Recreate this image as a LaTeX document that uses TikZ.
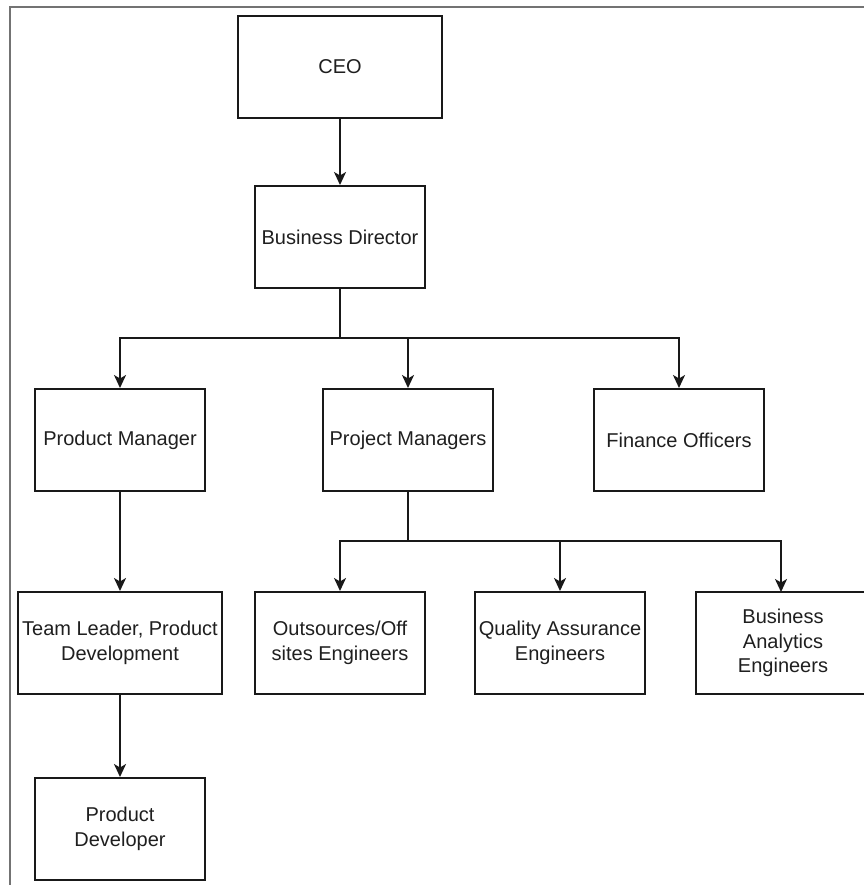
\documentclass[tikz,border=0pt]{standalone}
\usepackage{fontspec}
\setmainfont{Liberation Sans}
\usetikzlibrary{arrows.meta}
\begin{document}
\begin{tikzpicture}[x=1pt,y=-1pt,
  box/.style={draw=black!90, line width=2pt, fill=white, align=center, text=black!88,
    font=\fontsize{20}{24.5}\selectfont, inner sep=0pt, minimum height=102pt, minimum width=170pt},
  wide/.style={minimum width=204pt},
  conn/.style={draw=black!90, line width=2pt},
  arr/.style={conn, -{Stealth[length=13pt,width=12pt,inset=3.5pt]}}
]
\useasboundingbox (0,0) rectangle (863,885);
\draw[draw=black!55, line width=2pt] (10,886) -- (10,7.5) -- (864,7.5);

\node[box, wide] (ceo) at (340,67) {CEO};
\node[box] (bd) at (340,237) {Business Director};
\node[box] (pm) at (120,440) {Product Manager};
\node[box] (pjm) at (408,440) {Project Managers};
\node[box] (fo) at (679,440) {Finance Officers};
\node[box, wide] (tl) at (120,643) {Team Leader, Product\\Development};
\node[box] (pd) at (120,829) {Product\\Developer};
\node[box] (os) at (340,643) {Outsources/Off\\sites Engineers};
\node[box] (qa) at (560,643) {Quality Assurance\\Engineers};
\node[box, minimum width=174pt] (ba) at (783,643) {Business\\Analytics\\Engineers};

\coordinate (j1) at (bd.south |- 0,338);
\coordinate (j2) at (pjm.south |- 0,541);
\coordinate (bat) at (781,592);

\draw[arr] (ceo) -- (bd);
\draw[conn] (bd.south) -- (j1);
\draw[arr] (j1) -| (pm.north);
\draw[arr] (j1) -| (pjm.north);
\draw[arr] (j1) -| (fo.north);
\draw[arr] (pm) -- (tl);
\draw[arr] (tl) -- (pd);
\draw[conn] (pjm.south) -- (j2);
\draw[arr] (j2) -| (os.north);
\draw[arr] (j2) -| (qa.north);
\draw[arr] (j2) -| (bat);
\end{tikzpicture}
\end{document}
